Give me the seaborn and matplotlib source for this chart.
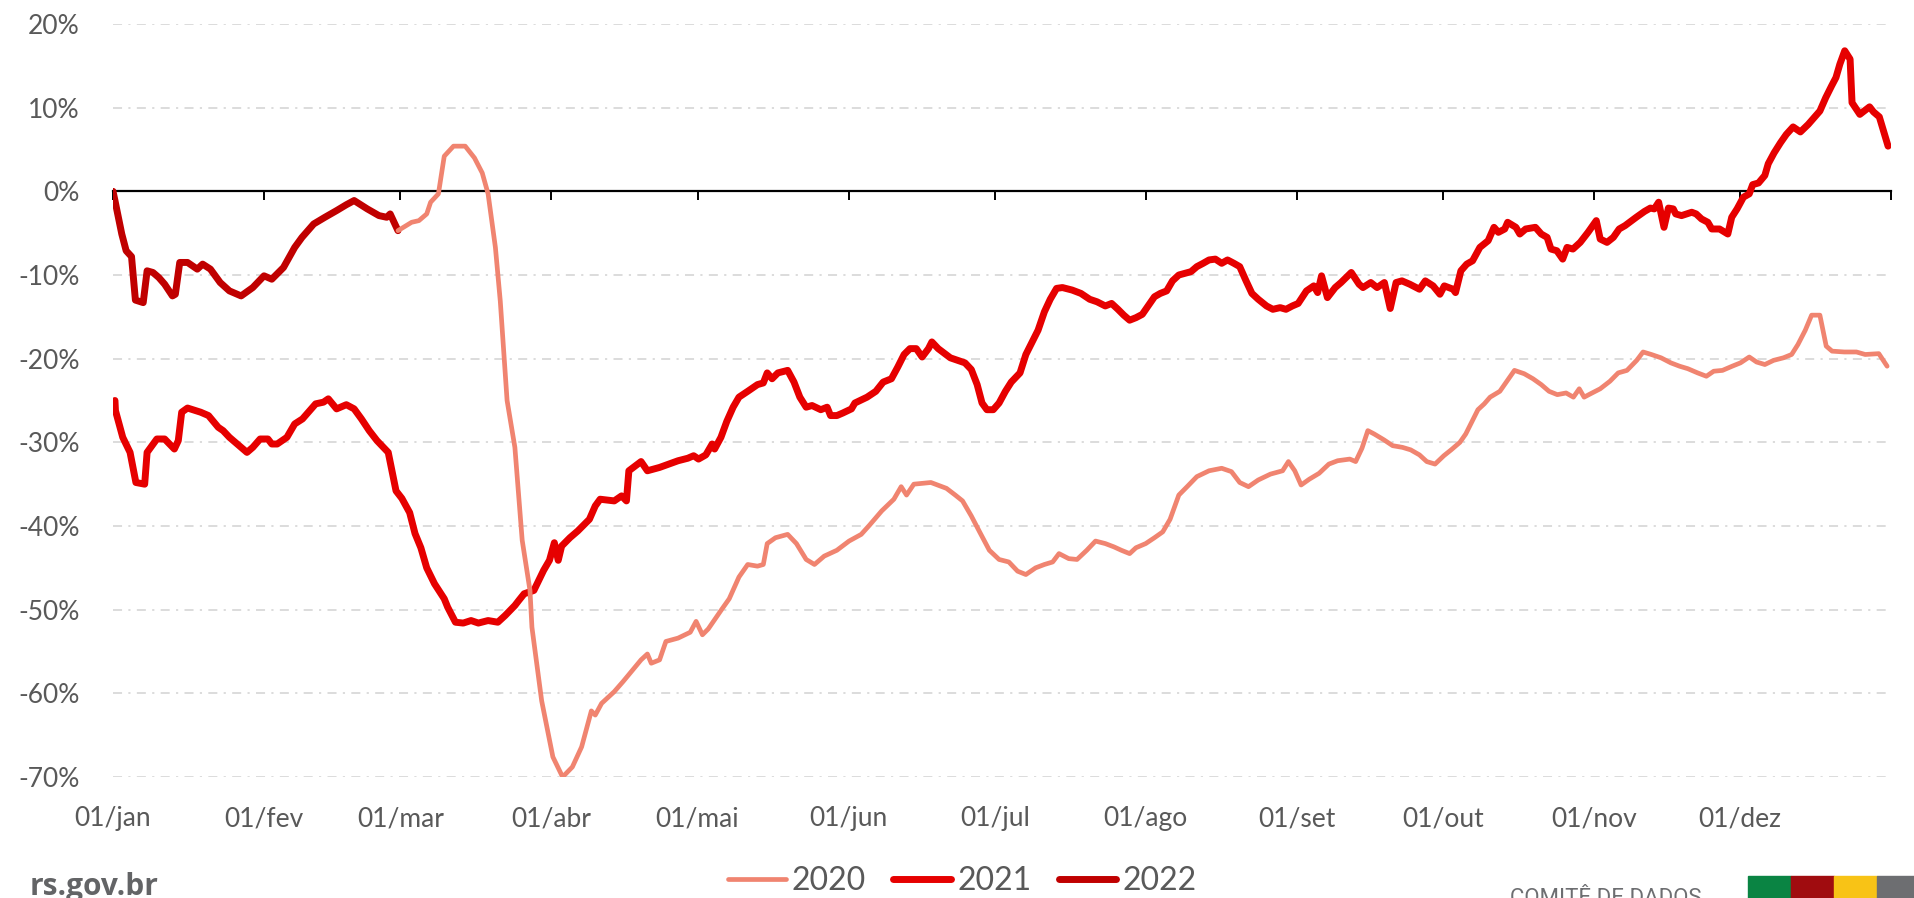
import seaborn as sns
import matplotlib.pyplot as plt
from matplotlib.patches import Rectangle

# x = day of year (0 = 01/jan), y = variation in %
days_2022 = [0, 0.4, 1.8, 2.7, 3.8, 4.6, 6.2, 7.0, 8.2, 9.4, 10.6, 12.2, 12.8, 13.7, 15.3, 17.3, 18.4,
             20.0, 22.0, 23.9, 26.3, 28.7, 31.0, 32.6, 35.0, 37.3, 38.8, 41.2, 43.5, 45.9, 47.9, 49.5,
             52.2, 54.6, 56.2, 56.9, 58.5]
vals_2022 = [0, -1.1, -5.1, -7.1, -7.8, -13.0, -13.3, -9.5, -9.7, -10.3, -11.1, -12.5, -12.3, -8.5, -8.5,
             -9.3, -8.7, -9.3, -10.9, -11.9, -12.5, -11.5, -10.1, -10.5, -9.1, -6.7, -5.5, -3.9, -3.1,
             -2.3, -1.6, -1.1, -2.1, -2.9, -3.1, -2.7, -4.7]

days_2020 = [58.5, 61.3, 62.8, 64.4, 65.2, 66.8, 68.0, 69.9, 72.3, 74.2, 75.8, 77.0, 78.5, 79.5, 80.9,
             82.5, 84.0, 85.6, 86.0, 88.0, 90.3, 92.3, 94.3, 96.2, 98.2, 99.0, 100.3, 102.9, 104.7,
             106.7, 108.4, 109.7, 110.5, 112.2, 113.5, 116.0, 118.5, 119.7, 121.0, 122.2, 124.8, 126.5,
             128.5, 130.3, 132.3, 133.5, 134.3, 136.0, 138.5, 140.3, 142.3, 144.0, 146.0, 148.6, 151.1,
             153.6, 155.3, 157.8, 160.3, 161.8, 162.9, 164.4, 167.9, 171.1, 172.9, 174.4, 176.2, 177.9,
             179.9, 181.9, 183.9, 185.7, 187.4, 189.4, 191.2, 192.9, 194.2, 196.2, 197.9, 199.9, 201.7,
             203.7, 205.5, 207.0, 208.7, 210.0, 212.0, 213.8, 215.5, 217.0, 218.8, 220.5, 222.5, 225.0,
             227.6, 229.6, 231.3, 233.1, 235.1, 237.6, 240.1, 241.3, 242.6, 243.9, 245.6, 247.6, 249.6,
             251.4, 253.9, 255.1, 256.4, 257.6, 258.9, 260.9, 262.7, 264.7, 266.4, 268.2, 269.7, 271.4,
             273.2, 274.7, 276.5, 277.7, 279.0, 280.2, 281.5, 282.7, 284.7, 286.5, 287.7, 289.7, 291.5,
             293.2, 294.8, 296.5, 298.3, 299.8, 301.0, 302.0, 303.3, 305.3, 307.3, 309.0, 310.8, 312.8,
             314.1, 315.8, 317.8, 319.8, 321.6, 323.3, 325.3, 327.1, 328.6, 330.4, 332.4, 334.1, 335.9,
             337.4, 339.1, 340.9, 342.9, 344.6, 345.9, 347.4, 348.7, 350.4, 351.7, 352.9, 355.4, 357.9,
             359.7, 362.5, 364.2]
vals_2020 = [-4.7, -3.7, -3.5, -2.7, -1.3, -0.3, 4.2, 5.4, 5.4, 4.0, 2.2, -0.3, -6.7, -13.1, -25.0,
             -30.6, -41.7, -47.7, -52.1, -60.9, -67.6, -70.0, -68.8, -66.4, -62.1, -62.6, -61.2, -59.8,
             -58.6, -57.2, -56.0, -55.3, -56.4, -56.0, -53.8, -53.4, -52.7, -51.4, -53.0, -52.3, -50.1,
             -48.7, -46.1, -44.6, -44.8, -44.6, -42.1, -41.4, -41.0, -42.1, -44.0, -44.6, -43.6, -42.9,
             -41.8, -41.0, -39.9, -38.2, -36.8, -35.3, -36.3, -35.0, -34.8, -35.5, -36.3, -37.0, -38.8,
             -40.7, -42.9, -44.0, -44.3, -45.4, -45.8, -45.0, -44.6, -44.3, -43.3, -43.9, -44.0, -42.9,
             -41.8, -42.1, -42.5, -42.9, -43.3, -42.6, -42.1, -41.4, -40.7, -39.2, -36.3, -35.3, -34.1,
             -33.4, -33.1, -33.5, -34.8, -35.3, -34.5, -33.8, -33.4, -32.3, -33.4, -35.1, -34.4, -33.7,
             -32.6, -32.2, -32.0, -32.3, -30.7, -28.6, -29.0, -29.7, -30.4, -30.6, -30.9, -31.5, -32.3,
             -32.6, -31.6, -30.9, -30.0, -29.0, -27.5, -26.1, -25.4, -24.6, -23.9, -22.4, -21.4, -21.8,
             -22.4, -23.1, -23.9, -24.3, -24.1, -24.6, -23.6, -24.6, -24.2, -23.6, -22.7, -21.7, -21.4,
             -20.2, -19.2, -19.5, -19.9, -20.5, -20.9, -21.2, -21.7, -22.1, -21.5, -21.4, -20.9, -20.5,
             -19.8, -20.4, -20.7, -20.2, -19.9, -19.5, -18.3, -16.6, -14.8, -14.8, -18.5, -19.1, -19.2,
             -19.2, -19.5, -19.4, -20.9]

days_2021 = [0.4, 0.5, 2.0, 3.5, 4.7, 6.5, 7.0, 9.0, 10.6, 12.6, 13.4, 14.1, 15.3, 18.0, 19.6, 21.6,
             22.6, 23.9, 25.5, 27.5, 28.7, 30.2, 31.8, 32.6, 33.7, 35.7, 37.3, 38.9, 40.4, 41.6, 43.2,
             44.2, 45.9, 47.9, 49.5, 51.0, 52.6, 54.2, 56.5, 58.1, 59.3, 60.9, 62.0, 63.2, 64.4, 66.0,
             68.0, 68.7, 70.3, 71.9, 73.5, 75.0, 77.0, 79.0, 80.5, 82.5, 83.3, 84.4, 86.4, 88.4, 89.6,
             90.6, 91.4, 92.1, 93.8, 95.4, 97.8, 99.0, 100.0, 102.9, 104.4, 105.4, 105.9, 108.4, 109.7,
             112.2, 116.0, 118.0, 119.2, 120.2, 121.7, 123.0, 123.5, 124.8, 126.0, 127.3, 128.5, 130.3,
             132.3, 133.5, 134.3, 135.3, 136.5, 138.5, 139.8, 141.0, 142.3, 143.5, 145.3, 146.6, 147.3,
             148.6, 149.8, 151.6, 152.3, 154.8, 156.6, 158.1, 159.8, 161.1, 162.4, 163.6, 164.9, 166.1,
             167.4, 168.1, 169.4, 171.9, 174.9, 176.2, 177.4, 178.4, 179.4, 180.7, 181.9, 183.2, 184.4,
             186.2, 187.4, 188.7, 189.9, 191.2, 192.4, 193.7, 194.9, 196.9, 198.7, 200.5, 202.0, 203.7,
             205.0, 206.3, 207.5, 208.7, 210.0, 211.3, 212.5, 213.8, 215.0, 216.3, 217.5, 218.8, 221.3,
             222.5, 223.8, 225.0, 226.3, 227.6, 228.8, 230.1, 231.3, 232.6, 233.8, 235.1, 236.8, 238.1,
             239.6, 240.8, 242.1, 243.3, 245.0, 246.5, 247.3, 248.1, 249.3, 250.9, 252.1, 254.2, 255.8,
             256.6, 258.2, 259.5, 261.0, 262.2, 263.4, 264.6, 266.2, 268.2, 269.4, 271.0, 272.4, 273.3,
             275.1, 275.6, 276.7, 277.9, 279.1, 280.6, 282.3, 283.5, 284.4, 285.7, 286.3, 288.0, 288.8,
             290.0, 292.0, 293.2, 294.4, 295.2, 296.4, 297.6, 298.5, 299.7, 301.2, 302.8, 304.5, 305.3,
             306.7, 308.0, 309.2, 310.4, 312.7, 314.4, 315.6, 316.4, 317.3, 318.4, 319.3, 320.3, 320.8,
             322.0, 324.1, 325.0, 326.1, 327.4, 328.2, 329.8, 331.5, 332.3, 333.4, 334.7, 335.9, 336.6,
             337.8, 339.1, 339.8, 341.0, 342.3, 343.5, 344.9, 346.4, 348.0, 349.2, 350.4, 351.6, 352.8,
             353.7, 354.5, 355.5, 356.6, 357.0, 358.6, 360.6, 361.4, 362.6, 364.4]
vals_2021 = [-25.0, -26.2, -29.4, -31.2, -34.8, -35.0, -31.2, -29.6, -29.6, -30.8, -29.8, -26.4, -25.9,
             -26.4, -26.8, -28.2, -28.6, -29.4, -30.2, -31.2, -30.6, -29.6, -29.6, -30.2, -30.2, -29.4,
             -27.8, -27.2, -26.2, -25.4, -25.2, -24.8, -26.0, -25.5, -26.0, -27.2, -28.6, -29.8, -31.2,
             -35.8, -36.7, -38.4, -40.9, -42.6, -45.0, -46.9, -48.7, -49.7, -51.5, -51.6, -51.3, -51.6,
             -51.3, -51.5, -50.7, -49.5, -48.9, -48.1, -47.7, -45.3, -44.1, -42.0, -44.1, -42.4, -41.4,
             -40.6, -39.2, -37.6, -36.8, -37.0, -36.4, -37.0, -33.4, -32.3, -33.4, -33.0, -32.2, -31.9,
             -31.6, -32.0, -31.5, -30.2, -30.8, -29.4, -27.5, -25.8, -24.6, -23.9, -23.1, -22.9, -21.7,
             -22.4, -21.7, -21.4, -22.8, -24.6, -25.8, -25.6, -26.1, -25.8, -26.8, -26.8, -26.5, -26.0,
             -25.3, -24.6, -23.9, -22.8, -22.4, -21.0, -19.5, -18.8, -18.8, -19.8, -18.8, -18.0, -18.8,
             -19.9, -20.5, -21.3, -23.1, -25.3, -26.1, -26.1, -25.3, -23.9, -22.8, -21.7, -19.5, -18.0,
             -16.6, -14.4, -12.9, -11.6, -11.5, -11.8, -12.2, -12.9, -13.2, -13.7, -13.4, -14.1, -14.8,
             -15.4, -15.1, -14.7, -13.7, -12.6, -12.2, -11.9, -10.7, -10.0, -9.6, -9.0, -8.6, -8.2, -8.1,
             -8.6, -8.2, -8.6, -9.0, -10.7, -12.2, -12.9, -13.7, -14.1, -13.9, -14.1, -13.7, -13.4, -11.9,
             -11.3, -12.1, -10.1, -12.7, -11.5, -10.9, -9.7, -11.1, -11.5, -10.9, -11.5, -10.9, -14.0,
             -10.9, -10.7, -11.1, -11.7, -10.7, -11.3, -12.3, -11.3, -11.7, -12.1, -9.5, -8.7, -8.3, -6.7,
             -5.9, -4.3, -4.9, -4.5, -3.7, -4.3, -5.1, -4.5, -4.3, -5.1, -5.5, -6.9, -7.1, -8.1, -6.7,
             -6.9, -6.1, -4.9, -3.5, -5.7, -6.1, -5.5, -4.5, -4.1, -3.1, -2.4, -2.0, -2.1, -1.3, -4.3,
             -2.0, -2.1, -2.7, -2.9, -2.5, -2.7, -3.3, -3.7, -4.5, -4.5, -5.1, -3.1, -2.1, -0.7, -0.3, 0.8,
             1.0, 1.9, 3.3, 4.6, 5.8, 6.8, 7.7, 7.1, 8.0, 8.8, 9.6, 11.2, 12.6, 13.6, 15.2, 16.8, 15.8,
             10.6, 9.2, 10.1, 9.5, 8.9, 5.4]

month_days = [0, 31, 59, 90, 120, 151, 181, 212, 243, 273, 304, 334]
month_labels = ['01/jan', '01/fev', '01/mar', '01/abr', '01/mai', '01/jun',
                '01/jul', '01/ago', '01/set', '01/out', '01/nov', '01/dez']
y_ticks = [-70, -60, -50, -40, -30, -20, -10, 0, 10, 20]

sns.set_theme(style='white')
plt.rcParams['font.family'] = ['Lato', 'DejaVu Sans']
text_gray = '#595959'

fig = plt.figure(figsize=(19.15, 8.98), dpi=100)
ax = fig.add_axes([0.05901, 0.13474, 0.92846, 0.83853])

line_kw = dict(estimator=None, sort=False, solid_capstyle='round', solid_joinstyle='round')
sns.lineplot(x=days_2021, y=vals_2021, ax=ax, color='#E60000', linewidth=5.0, label='2021',
             zorder=3, **line_kw)
sns.lineplot(x=days_2022, y=vals_2022, ax=ax, color='#C00000', linewidth=5.0, label='2022',
             zorder=4, **line_kw)
sns.lineplot(x=days_2020, y=vals_2020, ax=ax, color='#F08470', linewidth=3.4, label='2020',
             zorder=5, **line_kw)

ax.set_xlim(0, 365)
ax.set_ylim(-70, 20)
ax.set_yticks(y_ticks)
ax.set_yticklabels([f'{v}%' for v in y_ticks])
ax.tick_params(axis='y', length=0, pad=24, labelsize=19, labelcolor=text_gray)
ax.grid(axis='y', color='#D9D9D9', linestyle=(0, (5, 3.5, 1.2, 3.5)), linewidth=1.3)
ax.grid(axis='x', visible=False)
ax.set_xlabel('')
ax.set_ylabel('')
for s in ['top', 'right', 'left']:
    ax.spines[s].set_visible(False)

# horizontal axis line at 0 with tick marks below it
ax.spines['bottom'].set_position(('data', 0))
ax.spines['bottom'].set_color('black')
ax.spines['bottom'].set_linewidth(1.6)
ax.spines['bottom'].set_zorder(2.6)
ax.set_xticks(month_days + [365])
ax.tick_params(axis='x', direction='out', length=6.5, width=1.4, color='black',
               bottom=True, labelbottom=False)

# month labels at the bottom of the plot area
sec = ax.secondary_xaxis('bottom')
sec.set_xticks(month_days)
sec.set_xticklabels(month_labels)
sec.tick_params(length=0, pad=21, labelsize=19, labelcolor=text_gray)
sec.spines['bottom'].set_visible(False)

# legend
handles, labels = ax.get_legend_handles_labels()
order = [labels.index(l) for l in ['2020', '2021', '2022']]
if ax.get_legend() is not None:
    ax.get_legend().remove()
leg = fig.legend([handles[i] for i in order], [labels[i] for i in order], loc='center',
                 bbox_to_anchor=(0.5025, 0.019), ncol=3, frameon=False, fontsize=23,
                 handlelength=1.8, handletextpad=0.2, columnspacing=0.85, borderpad=0,
                 borderaxespad=0)
for t in leg.get_texts():
    t.set_color(text_gray)

# footer
fig.text(0.0155, 0.003, 'rs.gov.br', fontsize=21.5, fontweight='bold', color='#636466',
         family=['Open Sans', 'DejaVu Sans'], va='baseline', ha='left')
fig.text(1510 / 1915, -0.0067, 'COMITÊ DE DADOS', fontsize=16, color='#6D6E71',
         family=['Roboto', 'DejaVu Sans'], va='baseline', ha='left')
block_colors = ['#0A8443', '#A00C0F', '#F8C316', '#6D6E71']
for i, c in enumerate(block_colors):
    fig.patches.append(Rectangle(((1748 + 43 * i) / 1915, 0), 43 / 1915, 22 / 898,
                                 transform=fig.transFigure, color=c, zorder=1))

fig.savefig('out.png', dpi=100)
